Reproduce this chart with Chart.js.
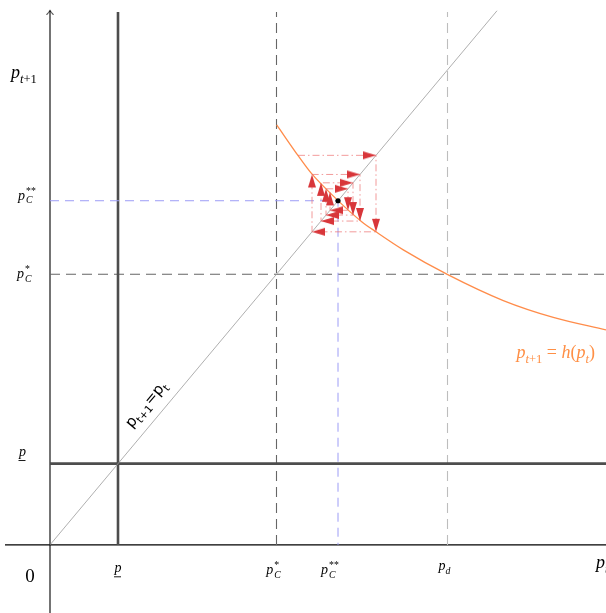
<!DOCTYPE html>
<html><head><meta charset="utf-8">
<script src="https://cdn.jsdelivr.net/npm/chart.js@4/dist/chart.umd.min.js"></script>
<style>html,body{margin:0;padding:0;background:#fff;overflow:hidden}#wrap{width:606px;height:613px}</style>
</head><body><div id="wrap"><canvas id="c" width="606" height="613"></canvas></div>
<script>
// ---- key values (chart units) ----
const pLow = 68;        // underline p
const pC1 = 226.5;      // p_C^*
const pC2 = 288;        // p_C^** (fixed point)
const pD = 397.5;       // p_d
const xRange = [-50, 556];
const yRange = [-57, 456];
const lineTop = 446;
const axisTop = 447;
const xAxisStart = -45;
const diagEnd = 447;

// h(p) curve
const curveX = [226.7, 248.3, 261, 288.3, 311.7, 326.7, 353.3, 397.3, 453.3, 503.3, 556];
const curveY = [351.5, 325.5, 311.3, 287.9, 270.5, 261.6, 246.9, 226.4, 204.5, 190.4, 179.9];

// cobweb path vertices
const cobwebX = [248, 326, 326, 262, 262, 310, 310, 271, 271, 303, 303, 276, 276, 298, 298, 280, 280];
const cobwebY = [326, 326, 262, 262, 310, 310, 271, 271, 303, 303, 276, 276, 298, 298, 280, 280, 295];

// label texts
const yTitle = 'p_{t+1}';
const xTitle = 'p_t';
const curveLabel = 'p_{t+1} = h(p_t)';
const diagLabel = 'p_{t+1}=p_t';

function pts(xs, ys){ return xs.map((x,i)=>({x:x, y:ys[i]})); }

// arrow head image, tip at centre, pointing up
const arrowImg = (()=>{ const c=document.createElement('canvas'); c.width=28; c.height=28;
  const g=c.getContext('2d'); g.fillStyle='#d8363a'; g.beginPath(); g.moveTo(14,14); g.lineTo(10,27); g.lineTo(18,27); g.closePath(); g.fill(); return c; })();
const chevronImg = (()=>{ const c=document.createElement('canvas'); c.width=14; c.height=14;
  const g=c.getContext('2d'); g.strokeStyle='#000'; g.lineWidth=1; g.beginPath(); g.moveTo(3.5,11); g.quadraticCurveTo(6,8.5,7,6.5); g.quadraticCurveTo(8,8.5,10.5,11); g.stroke(); return c; })();

const arrowPts = [], arrowRot = [];
for (let i=1;i<cobwebX.length;i++){
  const dx = cobwebX[i]-cobwebX[i-1], dy = cobwebY[i]-cobwebY[i-1];
  arrowPts.push({x:cobwebX[i], y:cobwebY[i]});
  arrowRot.push(dx>0?90:dx<0?270:dy>0?0:180);
}

function mathLayout(ctx, tokens, size, fam){
  let x=0, prevStart=0; const out=[];
  for(const tk of tokens){
    const lvl=tk.lvl||0; const sz = lvl? size*0.7 : size;
    const f = ((tk.st||'i')==='i'?'italic ':'') + sz + 'px ' + fam;
    ctx.font=f; const w=ctx.measureText(tk.t).width;
    const sx = tk.stack? prevStart : x + (tk.dx||0);
    const dy = lvl<0? size*0.26 : lvl>0? -size*0.42 : 0;
    out.push({t:tk.t,f:f,x:sx,dy:dy,w:w});
    if(tk.stack){ x=Math.max(x, sx+w); } else { prevStart=sx; x=sx+w; }
  }
  return {out:out, width:x};
}
function drawMath(ctx, tokens, size, x, y, align, color, fam, underline){
  fam = fam || "'Liberation Serif', 'DejaVu Serif', serif";
  const L = mathLayout(ctx, tokens, size, fam);
  const x0 = align==='center'? x-L.width/2 : align==='right'? x-L.width : x;
  ctx.fillStyle=color||'#000'; ctx.textAlign='left'; ctx.textBaseline='alphabetic';
  L.out.forEach(o=>{ ctx.font=o.f; ctx.fillText(o.t, x0+o.x, y+o.dy); });
  if (underline){ ctx.fillRect(x0+L.out[0].x-0.5, y+size*0.32, L.out[0].w, 0.9); }
}

const P = (extra)=>[{t:'p'}].concat(extra||[]);
const tokPC2 = P([{t:'**',lvl:1,st:'n',dx:1},{t:'C',lvl:-1,stack:true}]);
const tokPC1 = P([{t:'*',lvl:1,st:'n',dx:1},{t:'C',lvl:-1,stack:true}]);
const tokPt1 = P([{t:'t',lvl:-1},{t:'+1',lvl:-1,st:'n'}]);
const tokPd = P([{t:'d',lvl:-1}]);
const tokPt = P([{t:'t',lvl:-1}]);
const tokCurve = [{t:'p'},{t:'t',lvl:-1},{t:'+1',lvl:-1,st:'n'},{t:' = ',st:'n'},{t:'h'},{t:'(',st:'n'},{t:'p'},{t:'t',lvl:-1},{t:')',st:'n'}];
const tokDiag = [{t:'p',st:'n'},{t:'t+1',lvl:-1,st:'n'},{t:'=',st:'n'},{t:'p',st:'n'},{t:'t',lvl:-1,st:'n'}];

const labelPlugin = {
  id:'labels',
  afterDatasetsDraw(chart){
    const ctx=chart.ctx, xs=chart.scales.x, ys=chart.scales.y;
    const X=v=>xs.getPixelForValue(v), Y=v=>ys.getPixelForValue(v);
    ctx.save();
    // y side labels
    drawMath(ctx, tokPt1, 18, X(0)-39, Y(0)-467, 'left');
    drawMath(ctx, tokPC2, 14, X(0)-32, Y(pC2)-1, 'left');
    drawMath(ctx, tokPC1, 14, X(0)-33, Y(pC1)+4, 'left');
    drawMath(ctx, P(), 14, X(0)-31, Y(pLow)-8, 'left', '#000', null, true);
    // x side labels
    ctx.font = "19px 'Liberation Serif', serif"; ctx.fillStyle='#000'; ctx.textAlign='center';
    ctx.fillText('0', X(0)-20, Y(0)+37);
    drawMath(ctx, P(), 14, X(pLow), Y(0)+27, 'center', '#000', null, true);
    drawMath(ctx, tokPC1, 14, X(pC1)-3, Y(0)+29, 'center');
    drawMath(ctx, tokPC2, 14, X(pC2)-8, Y(0)+29, 'center');
    drawMath(ctx, tokPd, 14, X(pD)-3, Y(0)+25, 'center');
    drawMath(ctx, tokPt, 18, X(xRange[1])-10, Y(0)+23, 'left');
    // curve label
    drawMath(ctx, tokCurve, 18, X(xRange[1])-11, Y(0)-187, 'right', '#ff8f45');
    // diagonal label
    const ax=X(0), ay=Y(0), bx=X(400), by=Y(400);
    const ang=Math.atan2(by-ay, bx-ax);
    const ux=Math.cos(ang), uy=Math.sin(ang), nx=uy, ny=-ux;
    const sx=X(91)+nx*12, sy=Y(91)+ny*12;
    ctx.translate(sx, sy); ctx.rotate(ang);
    drawMath(ctx, tokDiag, 15, 0, 0, 'left', '#000', "'DejaVu Sans', sans-serif");
    ctx.restore();
  }
};

const solid = (data, color, w, extra)=>Object.assign({data:data, borderColor:color, borderWidth:w, showLine:true, pointRadius:0, fill:false}, extra||{});

new Chart(document.getElementById('c'), {
  type:'scatter',
  data:{ datasets:[
    solid([{x:pC2,y:pC2}], '#000', 0, {showLine:false, pointRadius:2.6, backgroundColor:'#000', pointBorderWidth:0}),
    {data:arrowPts, showLine:false, pointStyle:arrowImg, pointRadius:10, rotation:arrowRot},
    solid(pts(cobwebX, cobwebY), 'rgba(236,112,112,0.7)', 1, {borderDash:[7,3,1.5,3]}),
    solid(pts(curveX, curveY), '#ff8c4a', 1.3, {cubicInterpolationMode:'monotone'}),
    solid([{x:0,y:pC2},{x:pC2,y:pC2},{x:pC2,y:0}], '#9c9cf6', 1, {borderDash:[9,6]}),
    solid([{x:0,y:0},{x:diagEnd,y:diagEnd}], '#9a9a9a', 0.8),
    solid([{x:0,y:pLow},{x:xRange[1],y:pLow}], '#4d4d4d', 2.6),
    solid([{x:pLow,y:0},{x:pLow,y:lineTop}], '#4d4d4d', 2.6),
    solid([{x:pC1,y:0},{x:pC1,y:lineTop}], '#666', 1.1, {borderDash:[10,6]}),
    solid([{x:0,y:pC1},{x:xRange[1],y:pC1}], '#666', 1.1, {borderDash:[10,6]}),
    solid([{x:pD,y:0},{x:pD,y:lineTop}], '#bdbdbd', 1.1, {borderDash:[10,6]}),
    solid([{x:xAxisStart,y:0},{x:xRange[1],y:0}], '#000', 1.1),
    solid([{x:0,y:yRange[0]},{x:0,y:axisTop}], '#000', 1.1, {pointStyle:[false, chevronImg], pointRadius:[0,7]})
  ]},
  options:{
    responsive:false, animation:false, devicePixelRatio:1,
    layout:{padding:0, autoPadding:false},
    plugins:{legend:{display:false}, tooltip:{enabled:false}},
    scales:{
      x:{type:'linear', min:xRange[0], max:xRange[1], display:false},
      y:{type:'linear', min:yRange[0], max:yRange[1], display:false}
    }
  },
  plugins:[labelPlugin]
});
</script></body></html>
